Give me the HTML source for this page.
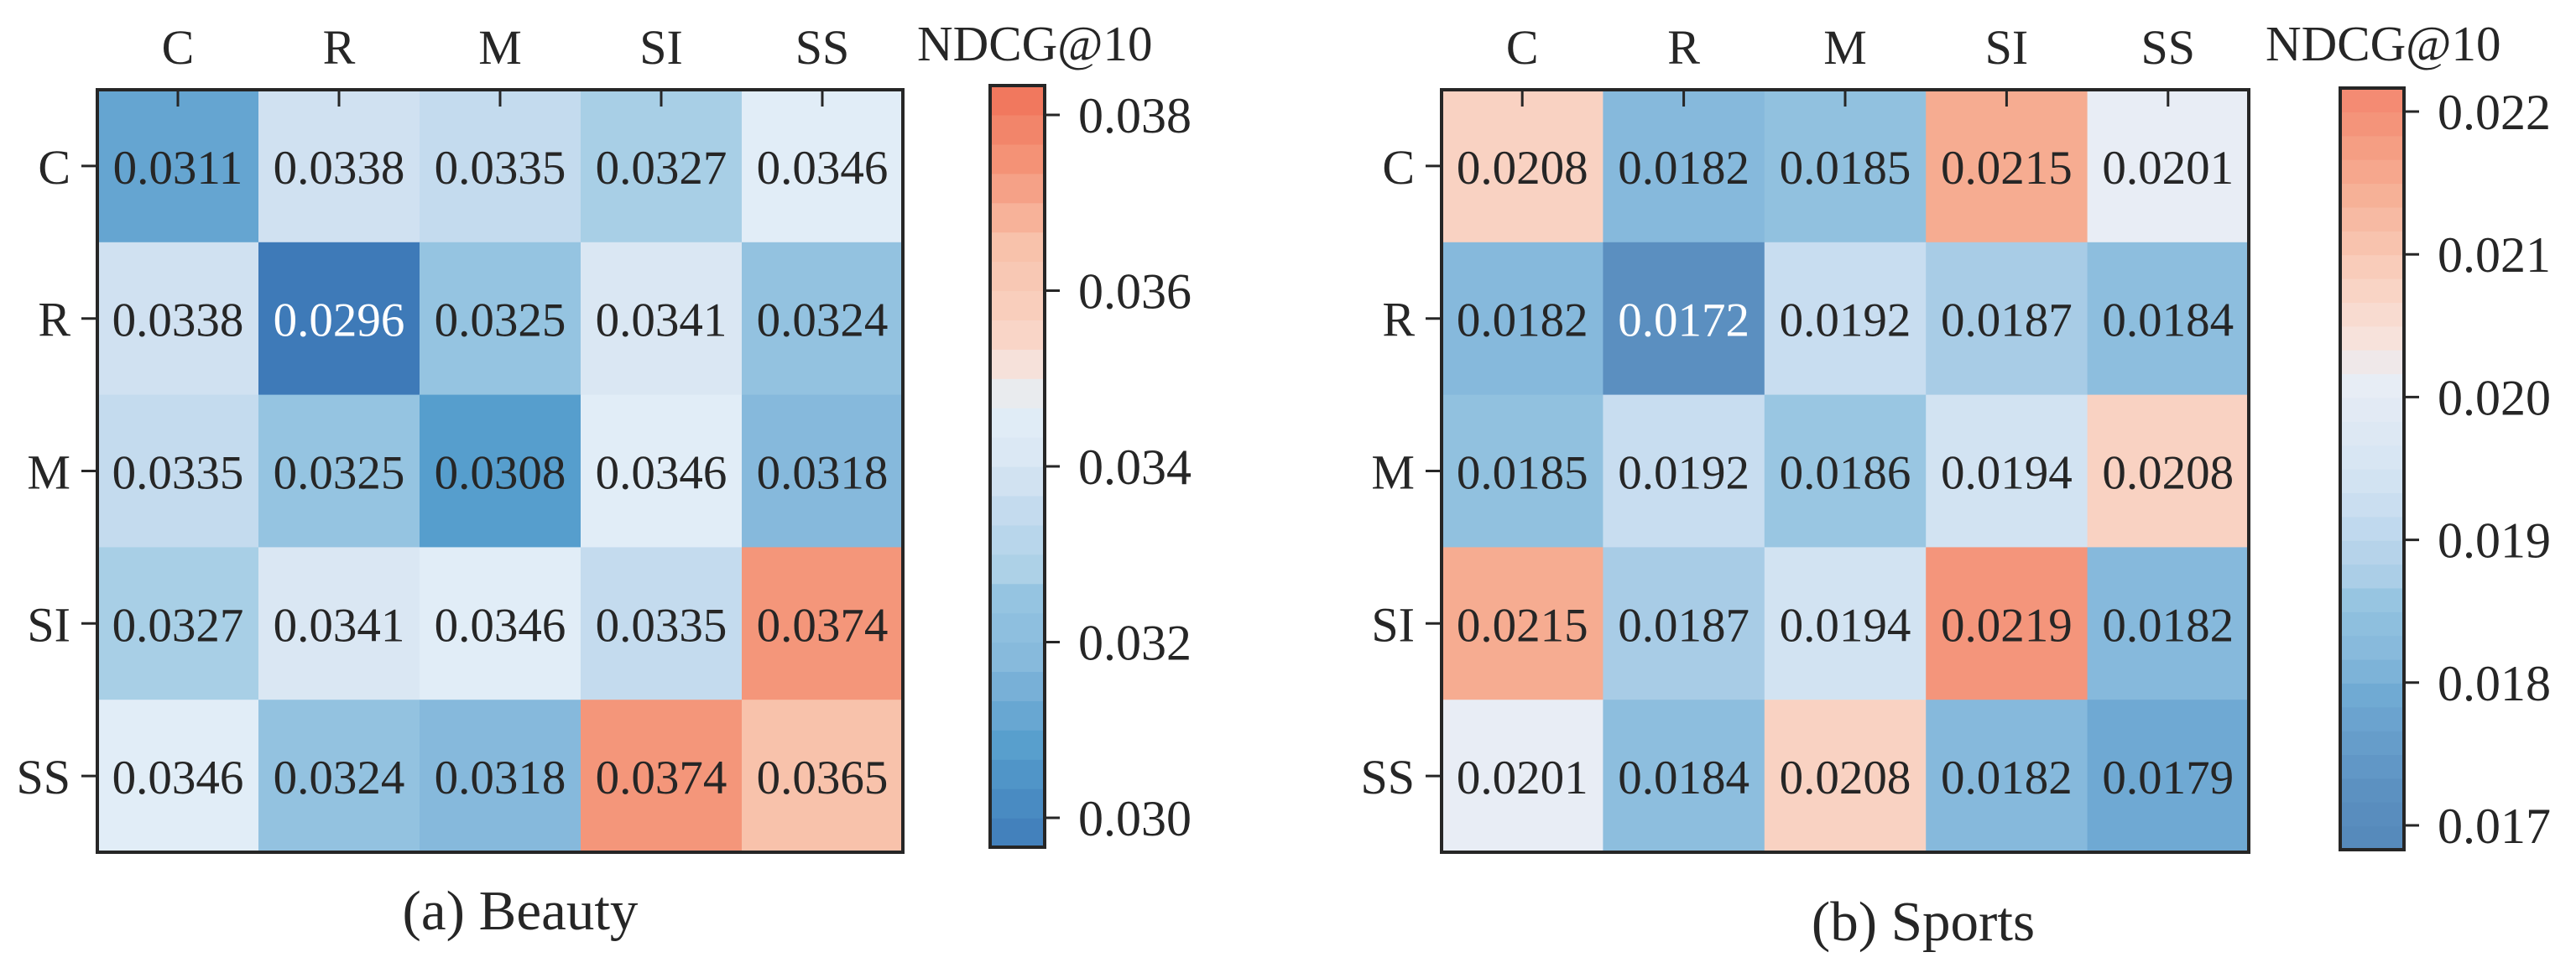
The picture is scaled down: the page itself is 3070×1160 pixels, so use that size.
<!DOCTYPE html>
<html><head><meta charset="utf-8"><style>
html,body{margin:0;padding:0;background:#fff;}
svg{display:block;}
text{font-family:"Liberation Serif","Times New Roman",serif;fill:#262626;}
</style></head>
<body>
<svg id="chart" width="3070" height="1160" viewBox="0 0 3070 1160" xmlns="http://www.w3.org/2000/svg"></svg>
<script>
const labels = ["C","R","M","SI","SS"];
const beautyValues = [
  [0.0311,0.0338,0.0335,0.0327,0.0346],
  [0.0338,0.0296,0.0325,0.0341,0.0324],
  [0.0335,0.0325,0.0308,0.0346,0.0318],
  [0.0327,0.0341,0.0346,0.0335,0.0374],
  [0.0346,0.0324,0.0318,0.0374,0.0365]
];
const sportsValues = [
  [0.0208,0.0182,0.0185,0.0215,0.0201],
  [0.0182,0.0172,0.0192,0.0187,0.0184],
  [0.0185,0.0192,0.0186,0.0194,0.0208],
  [0.0215,0.0187,0.0194,0.0219,0.0182],
  [0.0201,0.0184,0.0208,0.0182,0.0179]
];
const beautyTicks = [0.030,0.032,0.034,0.036,0.038];
const sportsTicks = [0.017,0.018,0.019,0.020,0.021,0.022];
const beautyStops = [0.0292,0.0296,0.0308,0.0311,0.0318,0.0325,0.0327,0.0335,0.0338,0.0341,0.0346,0.0349,0.0352,0.0356,0.0365,0.0374,0.0384];
const beautyStopColors = ["#3a6fa8","#3e7ab8","#569ecd","#65a5d1","#86b9dc","#95c4e1","#a8cfe6","#c4dbee","#d0e1f1","#dae7f3","#e1edf7","#ebebec","#f7e0d8","#f9d2c2","#f8c2ab","#f4967a","#f06f55"];
const sportsStops = [0.0166,0.0172,0.0179,0.0182,0.0185,0.0186,0.0187,0.0192,0.0194,0.0201,0.0204,0.0208,0.0215,0.0219,0.0223];
const sportsStopColors = ["#5184b5","#5b8fc0","#6fa9d3","#86b9dc","#91c1df","#99c6e2","#a8cce6","#c8ddf0","#d2e3f2","#e8edf5","#f7e3dc","#f9d2c2","#f6ac91","#f4957b","#f47f69"];

const NS="http://www.w3.org/2000/svg";
const svg=document.getElementById('chart');
function mk(tag,attrs,parent){const e=document.createElementNS(NS,tag);for(const k in attrs)e.setAttribute(k,attrs[k]);(parent||svg).appendChild(e);return e;}
function hex(c){return [1,3,5].map(i=>parseInt(c.substr(i,2),16));}
function cmap(v,stops,cols){
  if(v<=stops[0])return cols[0];
  if(v>=stops[stops.length-1])return cols[cols.length-1];
  for(let i=0;i<stops.length-1;i++){
    if(v<=stops[i+1]){const t=(v-stops[i])/(stops[i+1]-stops[i]);const a=hex(cols[i]),b=hex(cols[i+1]);
      return 'rgb('+a.map((x,j)=>Math.round(x+(b[j]-x)*t)).join(',')+')';}
  }
}
function panel(p){
  const g=mk('g',{});
  
  
  const cw=(p.x1-p.x0)/5, ch=(p.y1-p.y0)/5;
  const xs=i=>p.x0+i*cw, ys=i=>p.y0+i*ch;
  p.values.forEach((row,r)=>row.forEach((v,c)=>{
    const rc=mk('rect',{x:xs(c),y:ys(r),width:cw+0.5,height:ch+0.5,fill:cmap(v,p.stops,p.cols)},g);
    
    
    const t=mk('text',{x:xs(c)+cw/2,y:ys(r)+ch/2+21,'text-anchor':'middle','font-size':57},g);
    
    
    if(v===p.minV) t.style.fill='#fff';
    t.textContent=v.toFixed(4);
  }));
  const fr=mk('rect',{x:p.x0,y:p.y0,width:p.x1-p.x0,height:p.y1-p.y0,fill:'none',stroke:'#262626','stroke-width':4},g);
  
  
  labels.forEach((l,i)=>{
    const cx=xs(i)+cw/2, cy=ys(i)+ch/2;
    mk('line',{x1:cx,x2:cx,y1:p.y0,y2:p.y0+20,stroke:'#262626','stroke-width':3},g);
    const tx=mk('text',{x:cx,y:76,'text-anchor':'middle','font-size':58},g);
    
    
    tx.textContent=l;
    mk('line',{x1:p.x0-19,x2:p.x0,y1:cy,y2:cy,stroke:'#262626','stroke-width':3},g);
    const ty=mk('text',{x:p.x0-32,y:cy+21,'text-anchor':'end','font-size':58},g);
    
    
    ty.textContent=l;
  });
  // colorbar
  const cb=p.cb, n=p.nseg, segH=(cb.y1-cb.y0)/n;
  const cy=v=>cb.y1-(v-cb.vmin)/(cb.vmax-cb.vmin)*(cb.y1-cb.y0);
  for(let i=0;i<n;i++){
    const v=cb.vmin+(i+0.5)*(cb.vmax-cb.vmin)/n;
    const s=mk('rect',{x:cb.x0,y:cb.y1-(i+1)*segH,width:cb.x1-cb.x0,height:segH+0.6,fill:cmap(v,p.stops,p.cols)},g);
    
    
  }
  const cf=mk('rect',{x:cb.x0,y:cb.y0,width:cb.x1-cb.x0,height:cb.y1-cb.y0,fill:'none',stroke:'#262626','stroke-width':4},g);
  
  
  p.ticks.forEach(tv=>{
    const y=cy(tv);
    mk('line',{x1:cb.x1,x2:cb.x1+18,y1:y,y2:y,stroke:'#262626','stroke-width':3},g);
    const t=mk('text',{x:cb.x1+40,y:y+21,'font-size':60},g);
    
    
    t.textContent=tv.toFixed(3);
  });
  const lt=mk('text',{x:p.lblX,y:72,'font-size':59},g);
  
  
  lt.textContent='NDCG@10';
  const tt=mk('text',{x:p.titleX,y:p.titleY,'text-anchor':'middle','font-size':67},g);
  
  
  tt.textContent=p.title;
}
panel({name:'beauty-panel',values:beautyValues,minV:0.0296,stops:beautyStops,cols:beautyStopColors,
  x0:116,x1:1076,y0:107,y1:1016,ticks:beautyTicks,nseg:26,
  cb:{x0:1180,x1:1245,y0:102,y1:1010,vmin:0.030-35/104750,vmax:0.038+35/104750},
  lblX:1093,title:'(a) Beauty',titleX:620,titleY:1108});
panel({name:'sports-panel',values:sportsValues,minV:0.0172,stops:sportsStops,cols:sportsStopColors,
  x0:1718,x1:2680,y0:107,y1:1016,ticks:sportsTicks,nseg:32,
  cb:{x0:2789,x1:2865,y0:105,y1:1013,vmin:0.017-29/170200,vmax:0.022+28/170200},
  lblX:2700,title:'(b) Sports',titleX:2292,titleY:1121});
</script>
</body></html>
